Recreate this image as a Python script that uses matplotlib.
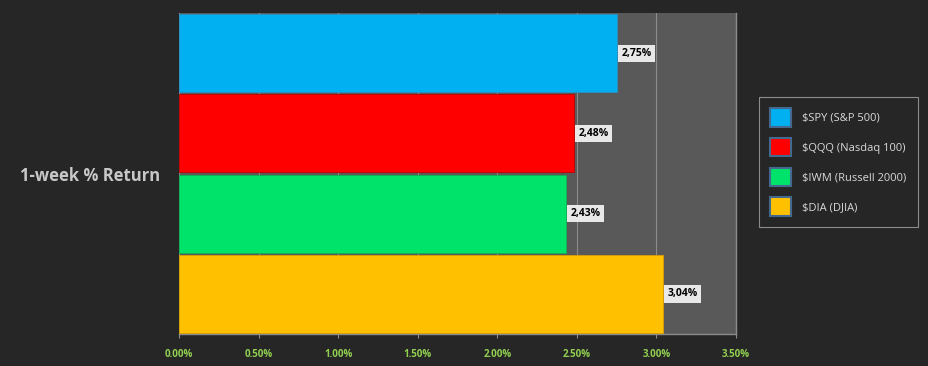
import matplotlib.pyplot as plt
from matplotlib.patches import Patch

# data
labels = ['$SPY (S&P 500)', '$QQQ (Nasdaq 100)', '$IWM (Russell 2000)', '$DIA (DJIA)']
values = [2.75, 2.48, 2.43, 3.04]
colors = ['#00b0f0', '#ff0000', '#00e36b', '#ffc000']
xticks = [0, 0.5, 1.0, 1.5, 2.0, 2.5, 3.0, 3.5]
category = '1-week % Return'

bg = '#262626'
plot_bg = '#595959'

fig = plt.figure(figsize=(9.29, 3.66), dpi=100, facecolor=bg)
ax = fig.add_axes([0.1927, 0.0874, 0.5996, 0.877])
ax.set_facecolor(plot_bg)

pos = list(range(len(values)))
ax.barh(pos, values, height=0.97, color=colors, zorder=3,
        edgecolor=['#2a8fc0', '#c00000', '#10b050', '#d9a000'], linewidth=0.6)

for p, v in zip(pos, values):
    ax.text(v + 0.03, p, f'{v:.2f}%'.replace('.', ','), va='center', ha='left',
            fontsize=7.5, fontweight='bold', color='black', family='Open Sans', zorder=5,
            bbox=dict(boxstyle='square,pad=0.3', fc='#e8e8e8', ec='none'))

ax.set_xlim(0, 3.5)
ax.set_ylim(len(values) - 0.5, -0.5)
ax.set_xticks(xticks)
ax.set_xticklabels([f'{t:.2f}%' for t in xticks], color='#92d050', fontsize=7,
                   fontweight='bold', family='Open Sans')
ax.tick_params(axis='x', colors='#8c8c8c', length=3, width=0.8, pad=8, labelcolor='#92d050')
ax.set_yticks([])
ax.grid(axis='x', color='#8c8c8c', linewidth=0.8, zorder=0)
ax.set_axisbelow(True)
for s in ['top', 'left']:
    ax.spines[s].set_visible(False)
for s in ['bottom', 'right']:
    ax.spines[s].set_color('#8c8c8c')
    ax.spines[s].set_linewidth(1)

fig.text(0.097, 0.52, category, ha='center', va='center', fontsize=12,
         fontweight='bold', color='#c8c8c8', family='Open Sans')

handles = [Patch(facecolor=c, edgecolor='#44698f', linewidth=1.5) for c in colors]
leg = fig.legend(handles, labels, loc='upper left', bbox_to_anchor=(0.817, 0.735),
                 frameon=True, handlelength=1.9, handleheight=2.2,
                 labelspacing=1.0, borderpad=1.0, handletextpad=1.0, borderaxespad=0,
                 fancybox=False, prop={'family': 'Open Sans', 'size': 8})
leg.get_frame().set_facecolor(bg)
leg.get_frame().set_edgecolor('#a6a6a6')
leg.get_frame().set_linewidth(0.8)
for t in leg.get_texts():
    t.set_color('#d9d9d9')

fig.savefig('out.png', dpi=100, facecolor=bg)
